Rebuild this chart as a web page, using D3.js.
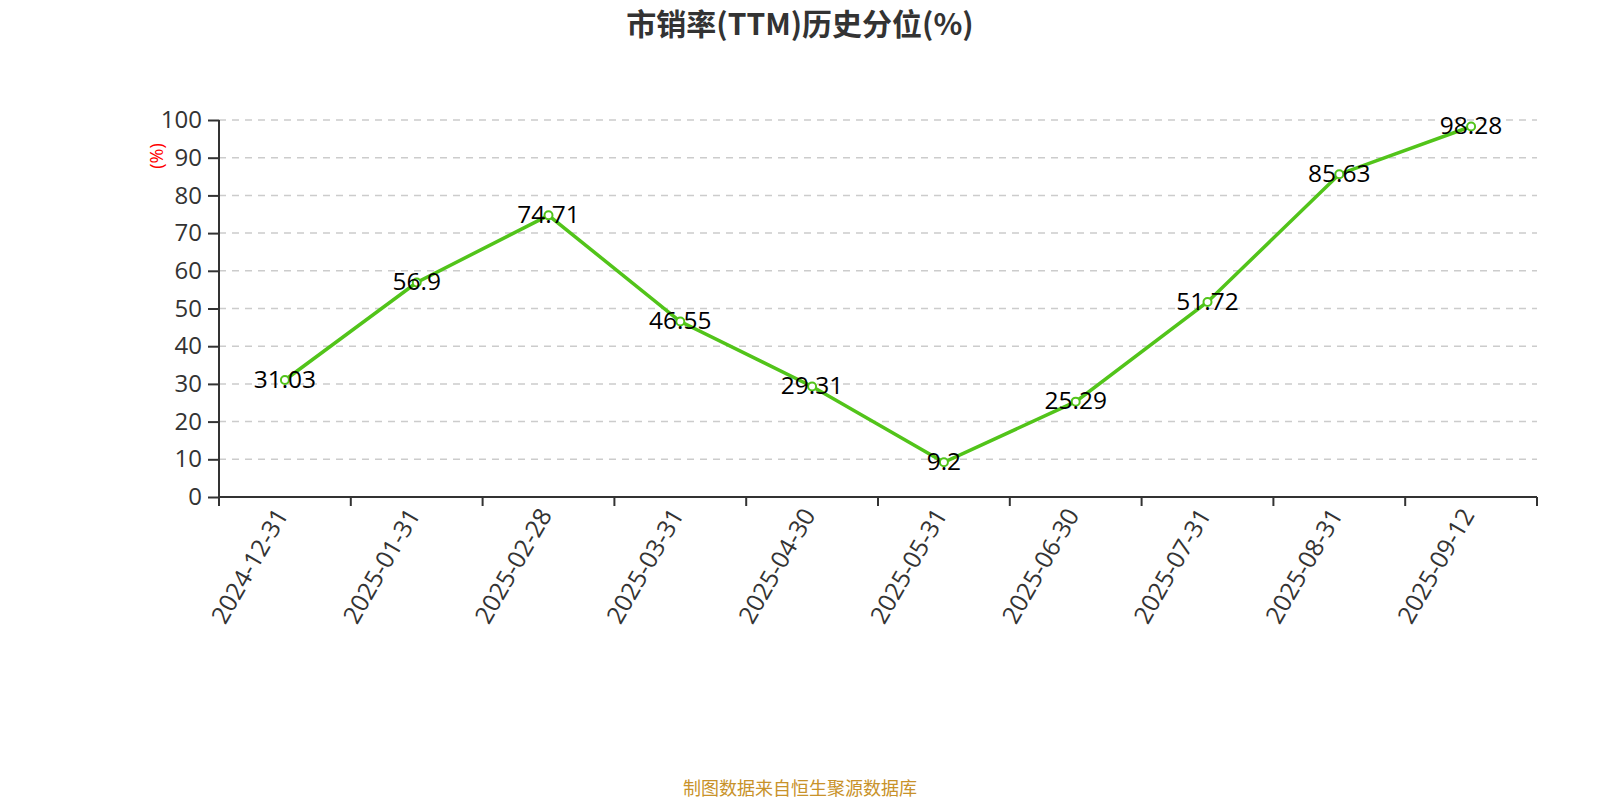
<!DOCTYPE html>
<html><head><meta charset="utf-8">
<script src="https://cdn.jsdelivr.net/npm/d3@7"></script>
<style>body{margin:0;background:#fff;} svg{display:block;}</style>
</head><body>
<svg id="c" width="1600" height="800"></svg>
<script>
const categories = ["2024-12-31","2025-01-31","2025-02-28","2025-03-31","2025-04-30","2025-05-31","2025-06-30","2025-07-31","2025-08-31","2025-09-12"];
const values = [31.03, 56.9, 74.71, 46.55, 29.31, 9.2, 25.29, 51.72, 85.63, 98.28];
const yTicks = [0,10,20,30,40,50,60,70,80,90,100];
const titleText = "市销率(TTM)历史分位(%)";
const yUnit = "(%)";
const footer = "制图数据来自恒生聚源数据库";

const font = "'Open Sans','Noto Sans CJK SC',sans-serif";
const svg = d3.select("#c");
const pLeft = 219, pRight = 1537, pTop = 120, pBottom = 497;
const x = d3.scaleBand().domain(categories).range([pLeft, pRight]);
const y = d3.scaleLinear().domain([0,100]).range([pBottom, pTop]);

svg.append("text").attr("x",800).attr("y",22).attr("text-anchor","middle").attr("dominant-baseline","central")
  .attr("font-family","'Noto Sans CJK SC',sans-serif").attr("font-weight","bold").attr("font-size",30).attr("fill","#333").text(titleText);

// grid
svg.append("g").selectAll("line").data(yTicks.filter(d=>d>0)).join("line")
  .attr("x1",pLeft).attr("x2",pRight).attr("y1",d=>y(d)).attr("y2",d=>y(d))
  .attr("stroke","#ccc").attr("stroke-width",1.5).attr("stroke-dasharray","7,6");

const yAxis = svg.append("g").attr("transform",`translate(${pLeft},0)`)
  .call(d3.axisLeft(y).tickValues(yTicks).tickSize(11).tickPadding(6));
yAxis.select(".domain").attr("stroke","#333").attr("stroke-width",2).attr("d",`M0,${pBottom}V${pTop}`);
yAxis.selectAll(".tick line").attr("stroke","#333").attr("stroke-width",2);
yAxis.selectAll(".tick text").attr("font-family",font).attr("font-size",24).attr("fill","#333");

const xAxis = svg.append("g").attr("transform",`translate(0,${pBottom})`)
  .call(d3.axisBottom(x).tickSize(0).tickFormat(""));
xAxis.select(".domain").attr("stroke","#333").attr("stroke-width",2).attr("d",`M${pLeft},0H${pRight}`);
const xt = d3.range(categories.length+1).map(i=>pLeft + i*x.step());
xAxis.selectAll(".xt").data(xt).join("line").attr("x1",d=>d).attr("x2",d=>d).attr("y1",0).attr("y2",9)
  .attr("stroke","#333").attr("stroke-width",2);
xAxis.selectAll(".xl").data(categories).join("text")
  .attr("transform",d=>`translate(${x(d)+x.bandwidth()/2-4},13) rotate(-60)`)
  .attr("text-anchor","end").attr("dominant-baseline","central")
  .attr("font-family",font).attr("font-size",24.5).attr("fill","#333").text(d=>d);

svg.append("text").attr("transform",`translate(156,156) rotate(-90)`).attr("text-anchor","middle").attr("dominant-baseline","central")
  .attr("font-family",font).attr("font-size",18).attr("fill","red").text(yUnit);

const cx = (d,i)=>x(categories[i])+x.bandwidth()/2;
const line = d3.line().x((d,i)=>cx(d,i)).y(d=>y(d));
svg.append("path").datum(values).attr("d",line).attr("fill","none").attr("stroke","#52c41a").attr("stroke-width",3.5);
svg.selectAll(".pt").data(values).join("circle").attr("cx",cx).attr("cy",d=>y(d)).attr("r",4)
  .attr("fill","#fff").attr("stroke","#52c41a").attr("stroke-width",2);
svg.selectAll(".lb").data(values).join("text").attr("x",cx).attr("y",d=>y(d)-2)
  .attr("text-anchor","middle").attr("dominant-baseline","central")
  .attr("font-family",font).attr("font-size",24.5).attr("fill","#000").text(d=>d);

svg.append("text").attr("x",800).attr("y",787).attr("text-anchor","middle").attr("dominant-baseline","central")
  .attr("font-family","'Noto Sans CJK SC',sans-serif").attr("font-size",18).attr("fill","#c8922a").text(footer);
</script>
</body></html>
